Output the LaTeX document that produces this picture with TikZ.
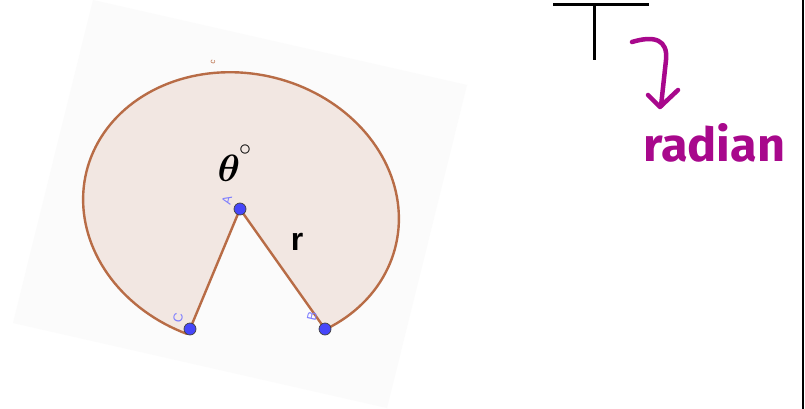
\documentclass[tikz,border=0pt]{standalone}
\usepackage{fontspec}
\usepackage{bm}
\newfontfamily\labsans{Liberation Sans}
\newfontfamily\handfont{Fira Sans}
\definecolor{sectorfill}{RGB}{242,231,226}
\definecolor{arcbrown}{RGB}{184,108,70}
\definecolor{ptblue}{RGB}{70,70,250}
\definecolor{lblblue}{RGB}{125,125,255}
\definecolor{bggray}{RGB}{251,251,251}
\definecolor{handcol}{RGB}{168,8,140}
\tikzset{
  sector/.style={fill=sectorfill, draw=arcbrown, line width=2.4pt, line join=round},
  ptdot/.style={circle, fill=ptblue, draw=black!75, line width=0.7pt, minimum size=12pt, inner sep=0pt},
  ptlbl/.style={font=\labsans\fontsize{13}{13}\selectfont, text=lblblue, rotate=77, inner sep=0pt},
  handline/.style={draw=handcol, line width=4.5pt, line cap=round, line join=round},
  tbar/.style={draw=black, line width=3pt}
}
\begin{document}
\begin{tikzpicture}[x=1pt,y=-1pt]
\useasboundingbox (0,0) rectangle (805,409);
\fill[white] (0,0) rectangle (805,409);
\begin{scope}
\clip (0,0) rectangle (805,409);
\fill[bggray] (93,0) -- (467,85) -- (387,408) -- (13,323) -- cycle;
\end{scope}
% points
\coordinate (A) at (240,209);
\coordinate (C) at (190,329);
\coordinate (B) at (325,329);
% sector (ellipse tilted 13 degrees)
\draw[sector] (A) -- (C) -- plot[domain=99:406, samples=140, variable=\t]
  ({241 + 159*cos(\t)*0.9744 - 135.5*sin(\t)*0.2250},
   {209 + 159*cos(\t)*0.2250 + 135.5*sin(\t)*0.9744}) -- (B) -- cycle;
\node[ptdot] (nA) at (A) {};
\node[ptdot] (nC) at (C) {};
\node[ptdot] (nB) at (B) {};
\node[ptlbl] (lA) at (227,200) {A};
\node[ptlbl] (lC) at (178,318) {C};
\node[ptlbl] (lB) at (312,316) {B};
\node[font=\labsans\fontsize{8}{8}\selectfont, text=arcbrown, rotate=77, inner sep=0pt] (lc) at (213,62) {c};
% theta and r
\node[inner sep=0pt] (theta) at (229,168) {\scalebox{3.8}{$\bm{\theta}$}};
\node[inner sep=0pt] (deg) at (245,150) {\scalebox{2.4}{$\circ$}};
\node[font=\labsans\bfseries\fontsize{32}{32}\selectfont, anchor=base, inner sep=0pt] (rlab) at (297,250) {r};
% T shape
\draw[tbar] (553,5) -- (649,5);
\draw[tbar] (594,5) -- (594,60);
% hand arrow
\draw[handline] (632,42) .. controls (655,35) and (668,40) .. (666,60) -- (661,106);
\draw[handline] (648,95) -- (660,107) -- (678,90);
\node[anchor=base west, inner sep=0pt, text=handcol] (radian) at (643,161)
  {\resizebox{142pt}{38pt}{\handfont\bfseries radian}};
% right border line
\draw[black, line width=1.5pt] (803,0) -- (803,409);
\end{tikzpicture}
\end{document}
